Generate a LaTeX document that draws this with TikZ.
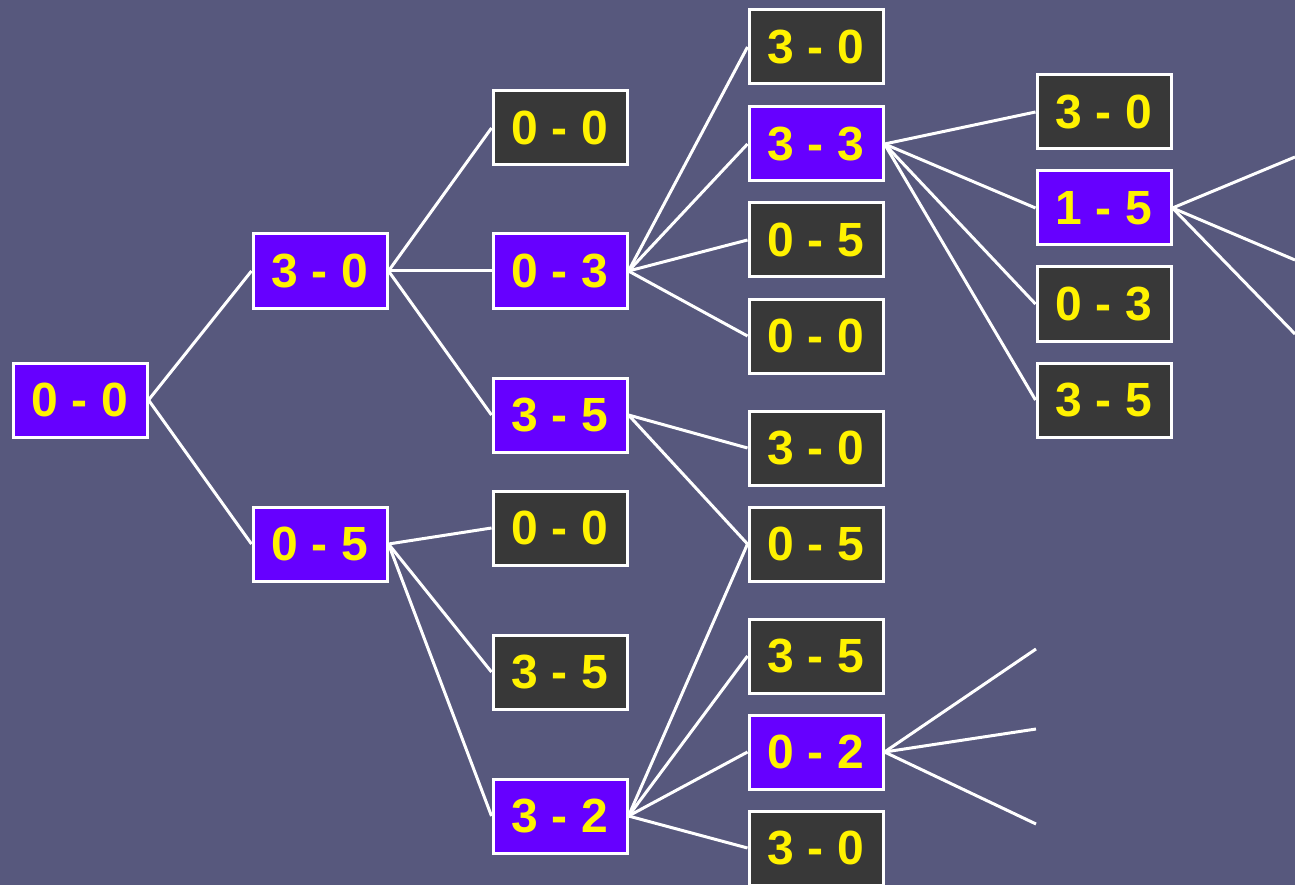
\documentclass[tikz,border=0pt]{standalone}
\usepackage{fontspec}
\setmainfont{Liberation Sans}
\usepackage{xcolor}
\definecolor{bgslate}{RGB}{87,88,125}
\definecolor{livepurple}{RGB}{102,0,255}
\definecolor{deadgrey}{RGB}{56,56,56}

\begin{document}
\begin{tikzpicture}[
	x=1pt, y=-1pt,
	every node/.style={font=\fontsize{48}{56}\selectfont\bfseries, text=yellow},
	score/.style={draw=white, line width=3pt, minimum width=134pt, minimum height=74pt, inner sep=0pt},
	live/.style={score, fill=livepurple},
	dead/.style={score, fill=deadgrey},
	branch/.style={draw=white, line width=3pt}
	]
	
	\useasboundingbox (0,0) rectangle (1295,885);
	\clip (0,0) rectangle (1295,885);
	\fill[bgslate] (0,0) rectangle (1295,885);
	
	% first move
	\node[live] (Root) at (80,400) {0 - 0};
	
	\node[live] (A) at (320,271) {3 - 0};
	\node[live] (B) at (320,544) {0 - 5};
	
	% second move
	\node[dead] (AA) at (560,128) {0 - 0};
	\node[live] (AB) at (560,271) {0 - 3};
	\node[live] (AC) at (560,415) {3 - 5};
	\node[dead] (BA) at (560,528) {0 - 0};
	\node[dead] (BB) at (560,672) {3 - 5};
	\node[live] (BC) at (560,816) {3 - 2};
	
	% third move
	\node[dead] (ABA) at (816,47) {3 - 0};
	\node[live] (ABB) at (816,144) {3 - 3};
	\node[dead] (ABC) at (816,240) {0 - 5};
	\node[dead] (ABD) at (816,336) {0 - 0};
	\node[dead] (ACA) at (816,448) {3 - 0};
	\node[dead] (Meet) at (816,544) {0 - 5};
	\node[dead] (BCB) at (816,656) {3 - 5};
	\node[live] (BCC) at (816,752) {0 - 2};
	\node[dead] (BCD) at (816,848) {3 - 0};
	
	% fourth move
	\node[dead] (ABBA) at (1104,112) {3 - 0};
	\node[live] (ABBB) at (1104,208) {1 - 5};
	\node[dead] (ABBC) at (1104,304) {0 - 3};
	\node[dead] (ABBD) at (1104,400) {3 - 5};
	
	% loose ends
	\coordinate (Out1) at (1295,157);
	\coordinate (Out2) at (1295,260);
	\coordinate (Out3) at (1295,334);
	\coordinate (Tip1) at (1036,649);
	\coordinate (Tip2) at (1036,729);
	\coordinate (Tip3) at (1036,824);
	
	\draw[branch] (Root.east) -- (A.west);
	\draw[branch] (Root.east) -- (B.west);
	
	\draw[branch] (A.east) -- (AA.west);
	\draw[branch] (A.east) -- (AB.west);
	\draw[branch] (A.east) -- (AC.west);
	\draw[branch] (B.east) -- (BA.west);
	\draw[branch] (B.east) -- (BB.west);
	\draw[branch] (B.east) -- (BC.west);
	
	\draw[branch] (AB.east) -- (ABA.west);
	\draw[branch] (AB.east) -- (ABB.west);
	\draw[branch] (AB.east) -- (ABC.west);
	\draw[branch] (AB.east) -- (ABD.west);
	\draw[branch] (AC.east) -- (ACA.west);
	\draw[branch] (AC.east) -- (Meet.west);
	\draw[branch] (BC.east) -- (Meet.west);
	\draw[branch] (BC.east) -- (BCB.west);
	\draw[branch] (BC.east) -- (BCC.west);
	\draw[branch] (BC.east) -- (BCD.west);
	
	\draw[branch] (ABB.east) -- (ABBA.west);
	\draw[branch] (ABB.east) -- (ABBB.west);
	\draw[branch] (ABB.east) -- (ABBC.west);
	\draw[branch] (ABB.east) -- (ABBD.west);
	
	\draw[branch] (ABBB.east) -- (Out1);
	\draw[branch] (ABBB.east) -- (Out2);
	\draw[branch] (ABBB.east) -- (Out3);
	\draw[branch] (BCC.east) -- (Tip1);
	\draw[branch] (BCC.east) -- (Tip2);
	\draw[branch] (BCC.east) -- (Tip3);
	
\end{tikzpicture}
\end{document}
